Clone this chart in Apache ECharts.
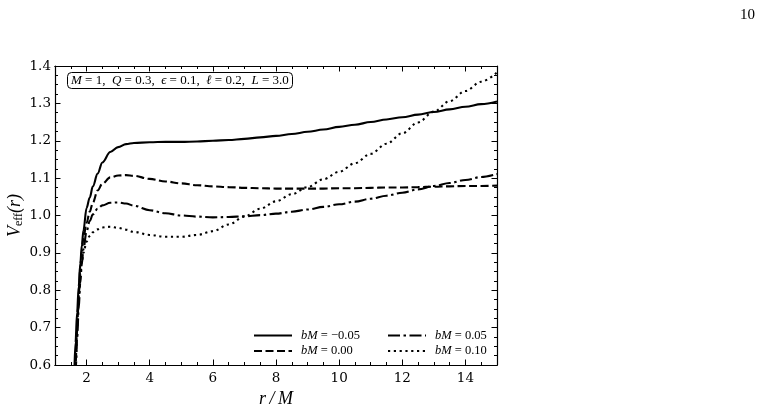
<!DOCTYPE html>
<html>
<head>
<meta charset="utf-8">
<script src="https://cdn.jsdelivr.net/npm/echarts@6/dist/echarts.min.js"></script>
<style>html,body{margin:0;padding:0;background:#fff;}#c{width:765px;height:413px;}</style>
</head>
<body>
<div id="c"></div>
<script>
// r/M sample points
const rValues = [1.62,1.65,1.70,1.75,1.80,1.85,1.90,2.0,2.1,2.2,2.35,2.5,2.75,3.0,3.25,3.5,4,4.5,5,5.5,6,6.5,7,7.5,8,8.5,9,9.5,10,10.5,11,11.5,12,12.5,13,13.5,14,14.5,15];
// V_eff for bM = -0.05
const vMinus005 = [0.60,0.66,0.74,0.81,0.87,0.92,0.96,1.02,1.048,1.078,1.112,1.142,1.170,1.183,1.191,1.194,1.196,1.197,1.197,1.198,1.200,1.202,1.205,1.209,1.213,1.218,1.224,1.230,1.237,1.243,1.250,1.257,1.263,1.270,1.277,1.284,1.291,1.298,1.305];
// bM = 0.00
const v000 = [0.55,0.60,0.69,0.78,0.86,0.905,0.94,0.98,1.01,1.035,1.067,1.085,1.102,1.107,1.108,1.106,1.098,1.091,1.086,1.081,1.078,1.076,1.074,1.073,1.072,1.072,1.072,1.072,1.073,1.073,1.074,1.075,1.075,1.076,1.077,1.078,1.079,1.079,1.080];
// bM = 0.05
const v005 = [0.52,0.58,0.67,0.75,0.82,0.87,0.91,0.958,0.985,1.003,1.018,1.027,1.034,1.035,1.032,1.026,1.014,1.006,1.000,0.997,0.995,0.996,0.998,1.001,1.005,1.010,1.016,1.023,1.030,1.037,1.045,1.053,1.061,1.070,1.079,1.087,1.095,1.103,1.111];
// bM = 0.10
const v010 = [0.48,0.58,0.70,0.78,0.84,0.875,0.90,0.93,0.945,0.955,0.963,0.968,0.970,0.967,0.962,0.956,0.948,0.943,0.943,0.948,0.958,0.976,0.997,1.018,1.038,1.057,1.076,1.097,1.117,1.140,1.165,1.192,1.220,1.249,1.278,1.306,1.333,1.358,1.383];

const seriesNames = ['bM = −0.05','bM = 0.00','bM = 0.05','bM = 0.10'];
const seriesValues = [vMinus005, v000, v005, v010];
const dashTypes = ['solid',[8,3.5],[12,3.5,2.5,3.5],[2.2,3.6]];
const xLabelValues = [2,4,6,8,10,12,14];

const serif = 'DejaVu Serif';
const mathFont = 'Liberation Serif';

const chart = echarts.init(document.getElementById('c'));

function legendFmt(name){
  const val = name.replace('bM = ','');
  return '{i|bM}{n| = ' + val + '}';
}
const legendRich = {
  i:{fontFamily:mathFont,fontStyle:'italic',fontSize:12.5,color:'#000',padding:[0,0,0,4]},
  n:{fontFamily:mathFont,fontSize:12.5,color:'#000'}
};

const baseX = {type:'value',min:1,max:15,splitLine:{show:false},
  axisLine:{show:true,lineStyle:{color:'#000',width:1.2}}};
const baseY = {type:'value',min:0.6,max:1.4,interval:0.1,splitLine:{show:false},
  axisLine:{show:true,lineStyle:{color:'#000',width:1.2}}};

const legendCommon = {orient:'vertical',itemWidth:38,itemHeight:12,itemGap:2.5,
  formatter:legendFmt,textStyle:{rich:legendRich},
  itemStyle:{color:'transparent',borderWidth:0,opacity:0}};

const option = {
  animation:false,
  backgroundColor:'#fff',
  title:[
    {text:'{i|M}{n| = 1,  }{i|Q}{n| = 0.3,  }{i|ϵ}{n| = 0.1,  }{i|ℓ}{n| = 0.2,  }{i|L}{n| = 3.0}',
     left:67, top:72, padding:[2,4,2,4], borderColor:'#000', borderWidth:1, borderRadius:4,
     backgroundColor:'#fff',
     textStyle:{fontWeight:'normal',rich:{
       i:{fontFamily:mathFont,fontStyle:'italic',fontWeight:'normal',fontSize:13,color:'#000'},
       n:{fontFamily:mathFont,fontWeight:'normal',fontSize:13,color:'#000'}}}},
    {text:'10', left:735, top:3, textStyle:{fontFamily:mathFont,fontSize:15,fontWeight:'normal',color:'#000'}}
  ],
  grid:{left:55,right:268,top:66,bottom:48,containLabel:false,outerBoundsMode:'none'},
  legend:[
    Object.assign({},legendCommon,{data:[seriesNames[0],seriesNames[1]],left:248,top:324}),
    Object.assign({},legendCommon,{data:[seriesNames[2],seriesNames[3]],left:382,top:324})
  ],
  xAxis:[
    Object.assign({},baseX,{position:'bottom',interval:0.5,
      axisTick:{show:true,inside:true,length:3,lineStyle:{color:'#000'}},
      axisLabel:{show:true,customValues:xLabelValues,margin:6,fontFamily:serif,fontSize:13.5,color:'#000'},
      name:'r\u2009/\u2009M',nameLocation:'middle',nameGap:20,
      nameTextStyle:{fontFamily:mathFont,fontStyle:'italic',fontSize:18,color:'#000'}}),
    Object.assign({},baseX,{position:'bottom',interval:0.5,
      axisTick:{show:true,inside:true,length:5.5,customValues:xLabelValues,lineStyle:{color:'#000'}},
      axisLabel:{show:false}}),
    Object.assign({},baseX,{position:'top',interval:0.5,
      axisTick:{show:true,inside:true,length:3,lineStyle:{color:'#000'}},
      axisLabel:{show:false}}),
    Object.assign({},baseX,{position:'top',interval:0.5,
      axisTick:{show:true,inside:true,length:5.5,customValues:xLabelValues,lineStyle:{color:'#000'}},
      axisLabel:{show:false}})
  ],
  yAxis:[
    Object.assign({},baseY,{position:'left',
      axisTick:{show:true,inside:true,length:5.5,lineStyle:{color:'#000'}},
      minorTick:{show:true,splitNumber:4,length:3,lineStyle:{color:'#000'}},
      axisLabel:{show:true,margin:4,fontFamily:serif,fontSize:13.5,color:'#000',formatter:v=>v.toFixed(1)},
      name:'{v|V}{s|eff}{v|(r)}',nameLocation:'middle',nameGap:30,nameMoveOverlap:false,
      nameTextStyle:{rich:{
        v:{fontFamily:mathFont,fontStyle:'italic',fontSize:18,color:'#000'},
        s:{fontFamily:mathFont,fontSize:12,color:'#000',padding:[8,0,0,0]}}}}),
    Object.assign({},baseY,{position:'right',
      axisTick:{show:true,inside:true,length:5.5,lineStyle:{color:'#000'}},
      minorTick:{show:true,splitNumber:4,length:3,lineStyle:{color:'#000'}},
      axisLabel:{show:false}})
  ],
  series: seriesNames.map((name,k)=>({
    name:name,type:'line',xAxisIndex:0,yAxisIndex:0,
    data:rValues.map((r,i)=>[r,seriesValues[k][i]]),
    showSymbol:false,symbol:'none',smooth:0.35,smoothMonotone:'x',clip:true,
    lineStyle:{color:'#000',width:2.1,type:dashTypes[k]},
    itemStyle:{color:'#000'}
  }))
};
chart.setOption(option);
</script>
</body>
</html>
